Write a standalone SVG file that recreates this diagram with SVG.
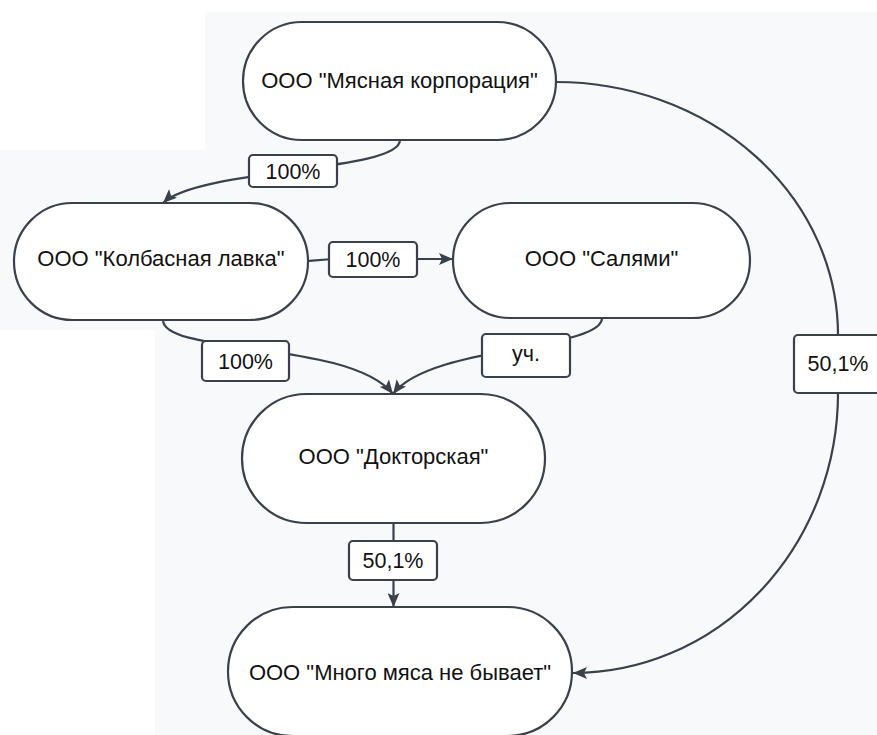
<svg xmlns="http://www.w3.org/2000/svg" width="877" height="735" viewBox="0 0 877 735">
<defs>
<style>
.node rect{fill:#ffffff;stroke:#3a414a;stroke-width:2.2}
.node text{font-family:"Liberation Sans",Arial,sans-serif;font-size:22px;fill:#111;text-anchor:middle}
.lbl rect{fill:#ffffff;stroke:#3a414a;stroke-width:2.2}
.lbl text{font-family:"Liberation Sans",Arial,sans-serif;font-size:21.5px;fill:#111;text-anchor:middle}
.edge{fill:none;stroke:#3a414a;stroke-width:2.2}
</style>
<marker id="arr" viewBox="0 0 14 12" refX="14" refY="6" markerWidth="14" markerHeight="12" markerUnits="userSpaceOnUse" orient="auto">
<path d="M0,0 L14,6 L0,12 L3,6 Z" fill="#3a414a"/>
</marker>
</defs>
<rect x="0" y="0" width="877" height="735" fill="#ffffff"/>
<rect x="205" y="12" width="672" height="723" fill="#f8f9fb"/>
<rect x="0" y="150" width="877" height="180" fill="#f8f9fb"/>
<rect x="155" y="330" width="722" height="405" fill="#f8f9fb"/>

<g id="connectors">
<path class="edge" d="M400,140 C400,172 200,168 163,203" marker-end="url(#arr)"/>
<path class="edge" d="M308,261 C318,260 325,259 340,259 L453,259" marker-end="url(#arr)"/>
<path class="edge" d="M163,320 C163,355 350,340 393,394" marker-end="url(#arr)"/>
<path class="edge" d="M602,318 C602,350 430,345 393,394" marker-end="url(#arr)"/>
<path class="edge" d="M556,82 A282,253 0 0 1 838,335 L838,393 A265,280 0 0 1 573,673" marker-end="url(#arr)"/>
<path class="edge" d="M393.5,523 L393.5,607" marker-end="url(#arr)"/>
</g>

<g id="labels">
<g class="lbl" id="label-100-a"><rect x="249" y="155" width="88" height="32" rx="4"/><text x="293" y="178.5">100%</text></g>
<g class="lbl" id="label-100-b"><rect x="329" y="242" width="88" height="35" rx="4"/><text x="373" y="266.5">100%</text></g>
<g class="lbl" id="label-100-c"><rect x="202" y="341" width="87" height="40" rx="4"/><text x="245.5" y="368.5">100%</text></g>
<g class="lbl" id="label-uch"><rect x="482" y="334" width="88" height="43" rx="4"/><text x="526" y="361">уч.</text></g>
<g class="lbl" id="label-501-a"><rect x="794" y="335" width="88" height="58" rx="4"/><text x="838" y="371">50,1%</text></g>
<g class="lbl" id="label-501-b"><rect x="349" y="541" width="88" height="39" rx="4"/><text x="393" y="568">50,1%</text></g>
</g>

<g id="node-myasnaya" class="node"><rect x="243" y="22" width="313" height="118" rx="59"/><text x="399.5" y="88">ООО "Мясная корпорация"</text></g>
<g id="node-kolbasnaya" class="node"><rect x="14" y="203" width="294" height="117" rx="58.5"/><text x="161" y="266">ООО "Колбасная лавка"</text></g>
<g id="node-salyami" class="node"><rect x="453" y="203" width="297" height="115" rx="57.5"/><text x="601.5" y="266">ООО "Салями"</text></g>
<g id="node-doktorskaya" class="node"><rect x="242" y="394" width="303" height="129" rx="64.5"/><text x="393.5" y="464">ООО "Докторская"</text></g>
<g id="node-mnogo" class="node"><rect x="228" y="607" width="344" height="129" rx="64.5"/><text x="400" y="680">ООО "Много мяса не бывает"</text></g>
</svg>
